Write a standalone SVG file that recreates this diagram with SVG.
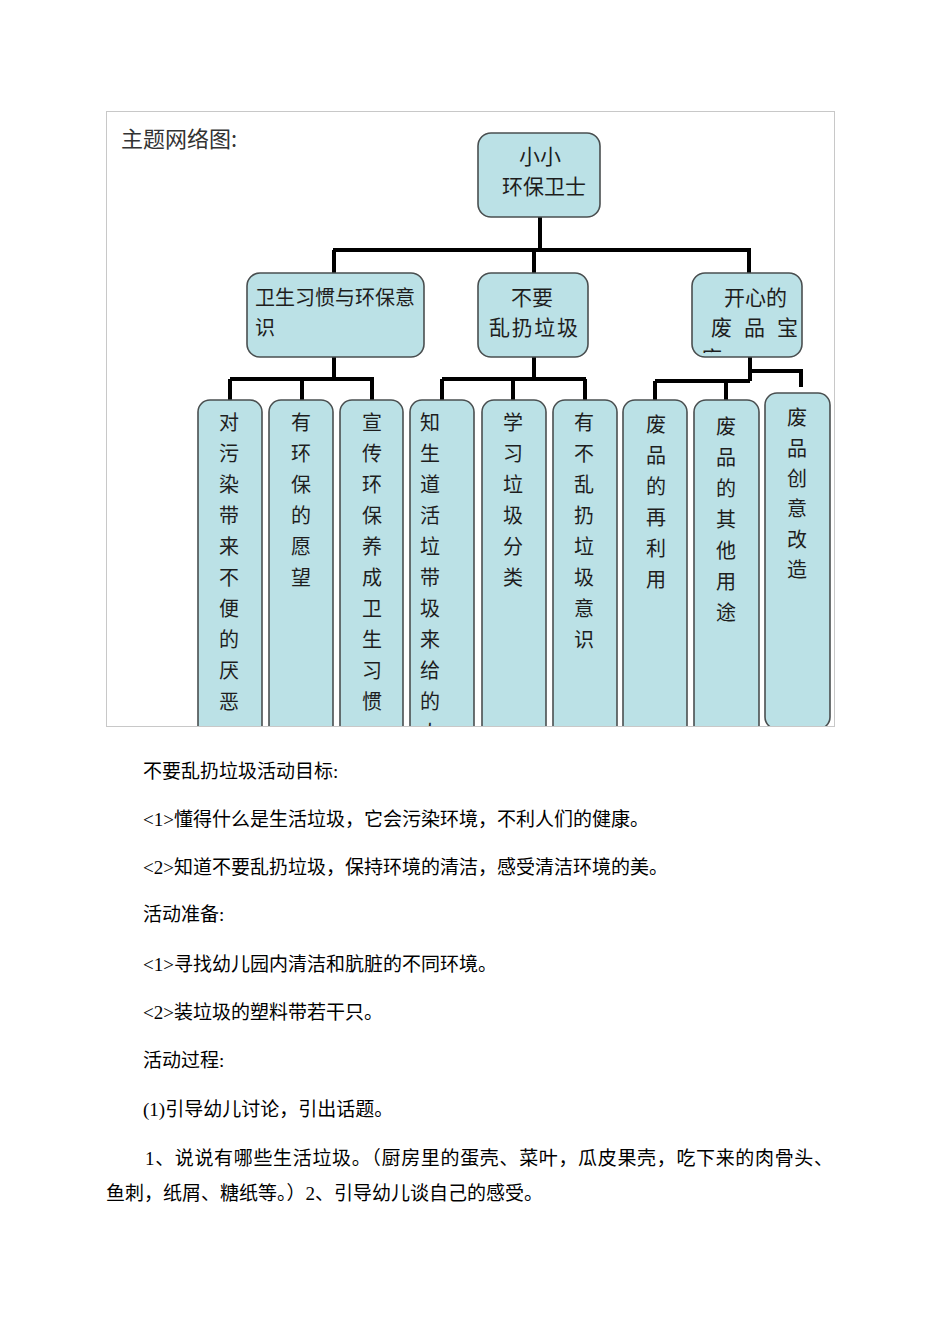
<svg xmlns="http://www.w3.org/2000/svg" width="950" height="1342" viewBox="0 0 950 1342">
<style>
.box{fill:#bbe1e6;stroke:#4a4f50;stroke-width:1.6}
.dt{font-family:"Noto Sans CJK SC","Noto Sans",sans-serif;font-size:20px;fill:#1e1e1e}
.vt{font-family:"Noto Sans CJK SC","Noto Sans",sans-serif;font-size:20px;fill:#1e1e1e;text-anchor:middle}
.mid{text-anchor:middle}
.conn{fill:none;stroke:#000;stroke-width:4;stroke-linejoin:miter;stroke-linecap:butt}
.body{font-family:"Liberation Serif","Noto Sans CJK SC",serif;font-size:19px;fill:#000}
</style>
<defs>
<clipPath id="frameClip"><rect x="107" y="112" width="727" height="614"/></clipPath>
<clipPath id="boxCClip"><rect x="693" y="274" width="108" height="79"/></clipPath>
</defs>
<rect width="950" height="1342" fill="#fff"/>
<g id="frame">
<rect x="106.5" y="111.5" width="728" height="615" fill="#fff" stroke="#c8c8c8" stroke-width="1"/>
</g>
<g id="title">
<text x="121" y="147" class="dt" style="font-size:22px;fill:#333">主题网络图:</text>
</g>
<g clip-path="url(#frameClip)">
<g id="connectors">
<path class="conn" d="M540 217 V250 M333 250 H751 M334 250 V273 M534 250 V273 M749 250 V273"/>
<path class="conn" d="M334 357 V379 M230 379 H374 M230 379 V400 M302 379 V400 M372 379 V400"/>
<path class="conn" d="M534 357 V379 M442 379 H586 M442 379 V400 M513 379 V400 M585 379 V400"/>
<path class="conn" d="M750 355 V381 M655 381 H750 M655 381 V400 M726 381 V400 M750 371 H801 M801 369 V387"/>
</g>
<g id="node-root">
<rect class="box" x="478" y="133" width="122" height="84" rx="13"/>
<text class="dt mid" x="540" y="164" style="font-size:21px">小小</text>
<text class="dt mid" x="544" y="194" style="font-size:21px">环保卫士</text>
</g>
<g id="node-a">
<rect class="box" x="247" y="273" width="177" height="84" rx="13"/>
<text class="dt" x="255" y="305">卫生习惯与环保意</text>
<text class="dt" x="255" y="335">识</text>
</g>
<g id="node-b">
<rect class="box" x="478" y="273" width="110" height="84" rx="13"/>
<text class="dt mid" x="532" y="305" style="font-size:21px">不要</text>
<text class="dt" x="489" y="335" style="font-size:21px" textLength="89" lengthAdjust="spacing">乱扔垃圾</text>
</g>
<g id="node-c">
<rect class="box" x="692" y="273" width="110" height="84" rx="13"/>
<text class="dt" x="724" y="305" style="font-size:21px">开心的</text>
<text class="dt" y="335" style="font-size:21px"><tspan x="711">废</tspan><tspan x="744">品</tspan><tspan x="777">宝</tspan></text>
<text class="dt" x="701" y="366" style="font-size:21px" clip-path="url(#boxCClip)">库</text>
</g>
<g id="leaf-1">
<rect class="box" x="198" y="400" width="64" height="360" rx="12"/>
<text class="vt"><tspan x="229" y="430">对</tspan><tspan x="229" y="461">污</tspan><tspan x="229" y="492">染</tspan><tspan x="229" y="523">带</tspan><tspan x="229" y="554">来</tspan><tspan x="229" y="585">不</tspan><tspan x="229" y="616">便</tspan><tspan x="229" y="647">的</tspan><tspan x="229" y="678">厌</tspan><tspan x="229" y="709">恶</tspan></text>
</g>
<g id="leaf-2">
<rect class="box" x="269" y="400" width="64" height="360" rx="12"/>
<text class="vt"><tspan x="301" y="430">有</tspan><tspan x="301" y="461">环</tspan><tspan x="301" y="492">保</tspan><tspan x="301" y="523">的</tspan><tspan x="301" y="554">愿</tspan><tspan x="301" y="585">望</tspan></text>
</g>
<g id="leaf-3">
<rect class="box" x="340" y="400" width="63" height="360" rx="12"/>
<text class="vt"><tspan x="372" y="430">宣</tspan><tspan x="372" y="461">传</tspan><tspan x="372" y="492">环</tspan><tspan x="372" y="523">保</tspan><tspan x="372" y="554">养</tspan><tspan x="372" y="585">成</tspan><tspan x="372" y="616">卫</tspan><tspan x="372" y="647">生</tspan><tspan x="372" y="678">习</tspan><tspan x="372" y="709">惯</tspan></text>
</g>
<g id="leaf-4">
<rect class="box" x="410" y="400" width="64" height="360" rx="12"/>
<text class="vt"><tspan x="430" y="430">知</tspan><tspan x="430" y="461">生</tspan><tspan x="430" y="492">道</tspan><tspan x="430" y="523">活</tspan><tspan x="430" y="554">垃</tspan><tspan x="430" y="585">带</tspan><tspan x="430" y="616">圾</tspan><tspan x="430" y="647">来</tspan><tspan x="430" y="678">给</tspan><tspan x="430" y="709">的</tspan><tspan x="430" y="740">人</tspan></text>
</g>
<g id="leaf-5">
<rect class="box" x="482" y="400" width="64" height="360" rx="12"/>
<text class="vt"><tspan x="513" y="430">学</tspan><tspan x="513" y="461">习</tspan><tspan x="513" y="492">垃</tspan><tspan x="513" y="523">圾</tspan><tspan x="513" y="554">分</tspan><tspan x="513" y="585">类</tspan></text>
</g>
<g id="leaf-6">
<rect class="box" x="553" y="400" width="64" height="360" rx="12"/>
<text class="vt"><tspan x="584" y="430">有</tspan><tspan x="584" y="461">不</tspan><tspan x="584" y="492">乱</tspan><tspan x="584" y="523">扔</tspan><tspan x="584" y="554">垃</tspan><tspan x="584" y="585">圾</tspan><tspan x="584" y="616">意</tspan><tspan x="584" y="647">识</tspan></text>
</g>
<g id="leaf-7">
<rect class="box" x="623" y="400" width="64" height="360" rx="12"/>
<text class="vt"><tspan x="656" y="432">废</tspan><tspan x="656" y="463">品</tspan><tspan x="656" y="494">的</tspan><tspan x="656" y="525">再</tspan><tspan x="656" y="556">利</tspan><tspan x="656" y="587">用</tspan></text>
</g>
<g id="leaf-8">
<rect class="box" x="694" y="400" width="65" height="360" rx="12"/>
<text class="vt"><tspan x="726" y="434">废</tspan><tspan x="726" y="465">品</tspan><tspan x="726" y="496">的</tspan><tspan x="726" y="527">其</tspan><tspan x="726" y="558">他</tspan><tspan x="726" y="589">用</tspan><tspan x="726" y="620">途</tspan></text>
</g>
<g id="leaf-9">
<rect class="box" x="765" y="393" width="65" height="336" rx="12"/>
<text class="vt"><tspan x="797" y="425">废</tspan><tspan x="797" y="456">品</tspan><tspan x="797" y="486">创</tspan><tspan x="797" y="516">意</tspan><tspan x="797" y="547">改</tspan><tspan x="797" y="577">造</tspan></text>
</g>
</g>
<g id="body-text">
<text class="body" x="143" y="778">不要乱扔垃圾活动目标:</text>
<text class="body" x="143" y="826">&lt;1&gt;懂得什么是生活垃圾，它会污染环境，不利人们的健康。</text>
<text class="body" x="143" y="874">&lt;2&gt;知道不要乱扔垃圾，保持环境的清洁，感受清洁环境的美。</text>
<text class="body" x="143" y="921">活动准备:</text>
<text class="body" x="143" y="971">&lt;1&gt;寻找幼儿园内清洁和肮脏的不同环境。</text>
<text class="body" x="143" y="1019">&lt;2&gt;装垃圾的塑料带若干只。</text>
<text class="body" x="143" y="1067">活动过程:</text>
<text class="body" x="143" y="1116">(1)引导幼儿讨论，引出话题。</text>
<text class="body" x="145" y="1165" textLength="688" lengthAdjust="spacing">1、说说有哪些生活垃圾。（厨房里的蛋壳、菜叶，瓜皮果壳，吃下来的肉骨头、</text>
<text class="body" x="106" y="1200">鱼刺，纸屑、糖纸等。）2、引导幼儿谈自己的感受。</text>
</g>
</svg>
